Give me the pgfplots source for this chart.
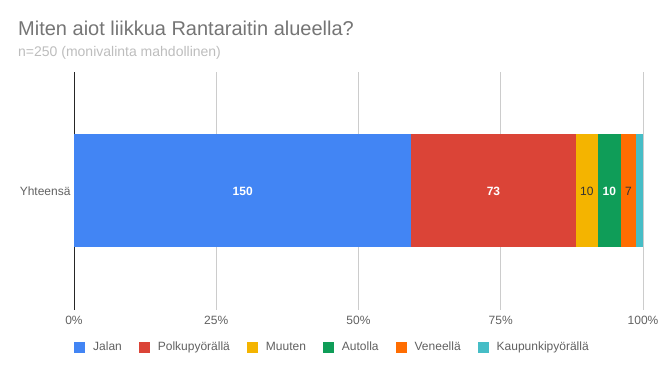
\documentclass[border=0pt]{standalone}
\usepackage{fontspec}
\setmainfont{Liberation Sans}
\usepackage{pgfplots}
\pgfplotsset{compat=1.18}
\definecolor{cJalan}{HTML}{4285F4}
\definecolor{cPolku}{HTML}{DB4437}
\definecolor{cMuuten}{HTML}{F4B400}
\definecolor{cAuto}{HTML}{0F9D58}
\definecolor{cVene}{HTML}{FF6D01}
\definecolor{cKaup}{HTML}{46BDC6}
\definecolor{titlegray}{HTML}{757575}
\definecolor{subgray}{HTML}{BDBDBD}
\definecolor{labgray}{HTML}{616161}
\definecolor{gridgray}{HTML}{CCCCCC}
\begin{document}
\begin{tikzpicture}[x=1pt,y=1pt]
\path[use as bounding box] (0,0) rectangle (662,371);
\node[anchor=base west, text=titlegray, font=\fontsize{20}{22}\selectfont, inner sep=0pt] at (18,335) {Miten aiot liikkua Rantaraitin alueella?};
\node[anchor=base west, text=subgray, font=\fontsize{14}{16}\selectfont, inner sep=0pt] at (18,314.5) {n=250 (monivalinta mahdollinen)};
\begin{axis}[
  at={(74pt,61pt)}, anchor=south west,
  scale only axis, width=569pt, height=238pt,
  xbar stacked, bar width=113pt,
  legend image code/.code={\fill[#1] (0pt,-5.5pt) rectangle (11pt,5.5pt);},
  xmin=0, xmax=253, ymin=-1, ymax=1,
  ytick={0}, yticklabels={Yhteensä},
  xtick={0,63.25,126.5,189.75,253},
  xticklabels={0\%,25\%,50\%,75\%,100\%},
  major tick length=0pt,
  xmajorgrids, grid style={color=gridgray, line width=0.8pt},
  axis lines*=left,
  x axis line style={draw=none},
  y axis line style={draw=black!85, line width=1pt},
  tick label style={font=\fontsize{12}{14}\selectfont, text=labgray},
  xticklabel style={yshift=-3pt},
  /pgf/number format/assume math mode=true,
  point meta=explicit,
  legend style={at={(0.0,-0.1555)}, anchor=west, draw=none, inner sep=0pt,
    legend columns=-1, font=\fontsize{12}{14}\selectfont, text=labgray,
    nodes={inner xsep=0pt},
    /tikz/every odd column/.append style={column sep=8pt},
    /tikz/every even column/.append style={column sep=17pt}},
  nodes near coords align={center},
  every node near coord/.append style={font=\fontsize{12}{14}\selectfont},
]
\addplot[fill=cJalan, draw=none, nodes near coords,
  every node near coord/.append style={text=white, font=\fontsize{12}{14}\selectfont\bfseries}]
  coordinates {(150,0) [150]};
\addplot[fill=cPolku, draw=none, nodes near coords,
  every node near coord/.append style={text=white, font=\fontsize{12}{14}\selectfont\bfseries}]
  coordinates {(73,0) [73]};
\addplot[fill=cMuuten, draw=none, nodes near coords,
  every node near coord/.append style={text=black!80}]
  coordinates {(10,0) [10]};
\addplot[fill=cAuto, draw=none, nodes near coords,
  every node near coord/.append style={text=white, font=\fontsize{12}{14}\selectfont\bfseries}]
  coordinates {(10,0) [10]};
\addplot[fill=cVene, draw=none, nodes near coords,
  every node near coord/.append style={text=black!80}]
  coordinates {(7,0) [7]};
\addplot[fill=cKaup, draw=none]
  coordinates {(3,0) [3]};
\legend{Jalan,Polkupyörällä,Muuten,Autolla,Veneellä,Kaupunkipyörällä}
\end{axis}
\end{tikzpicture}
\end{document}
